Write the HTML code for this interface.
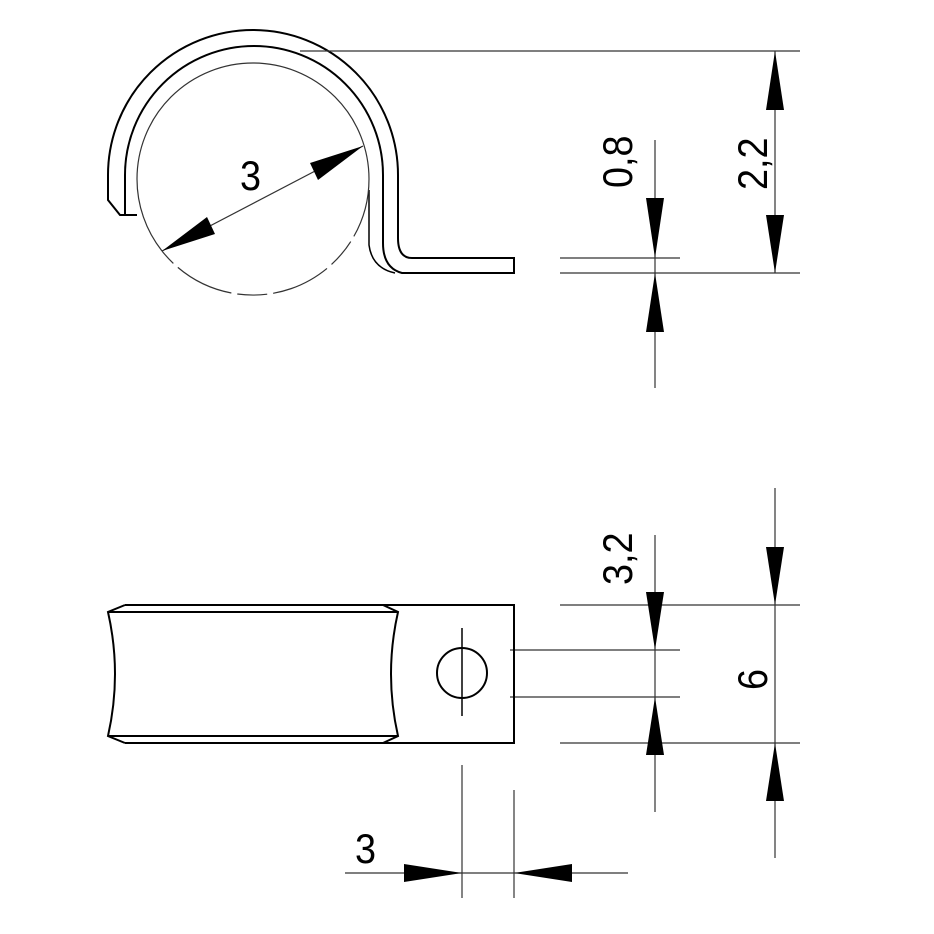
<!DOCTYPE html>
<html><head><meta charset="utf-8"><style>html,body{margin:0;padding:0;background:#fff}svg{display:block}text{font-family:"Liberation Sans",sans-serif;font-size:42px;fill:#000}</style></head><body>
<svg width="934" height="934" viewBox="0 0 934 934" xmlns="http://www.w3.org/2000/svg">
<g fill="none" stroke="#000" stroke-width="2">
<path d="M108,200 L108,175 A145,145 0 1 1 398,175 L398,238 Q398,258 412,258 L514,258 L514,273 L402,273 Q383,268 383,243 L383,175 A129,129 0 1 0 125,175 L125,215 L120,215 Z"/>
<path d="M120,215 L137,215"/>
<path d="M369,190 L369,245 Q372,268 395,273" stroke-width="1.5"/>
</g>
<g fill="none" stroke="#333" stroke-width="1.2">
<path d="M137,179 A116,116 0 0 1 369,179"/>
<path d="M137,179 A116,116 0 0 0 162,251"/>
<path d="M369,179 A116,116 0 0 1 162,251" stroke-dasharray="60,6,30,6"/>
<line x1="300" y1="51" x2="800" y2="51"/>
<line x1="775" y1="51" x2="775" y2="273"/>
<line x1="560" y1="273" x2="800" y2="273"/>
<line x1="560" y1="258" x2="680" y2="258"/>
<line x1="655" y1="140" x2="655" y2="388"/>
<line x1="162" y1="251" x2="363" y2="146"/>
<line x1="560" y1="605" x2="800" y2="605"/>
<line x1="560" y1="743" x2="800" y2="743"/>
<line x1="510" y1="650" x2="680" y2="650"/>
<line x1="510" y1="697" x2="680" y2="697"/>
<line x1="775" y1="488" x2="775" y2="858"/>
<line x1="655" y1="535" x2="655" y2="812"/>
<line x1="462" y1="765" x2="462" y2="898"/>
<line x1="514" y1="790" x2="514" y2="898"/>
<line x1="345" y1="873" x2="628" y2="873"/>
<line x1="462" y1="628" x2="462" y2="716" stroke="#000" stroke-width="1.5"/>
</g>
<g fill="#000">
<polygon points="775,51 766,110 784,110"/>
<polygon points="775,273 766,215 784,215"/>
<polygon points="655,258 646,198 664,198"/>
<polygon points="655,273 646,332 664,332"/>
<polygon points="363,146 318,180 310,163"/>
<polygon points="162,251 207,217 215,234"/>
<polygon points="775,605 766,547 784,547"/>
<polygon points="775,743 766,801 784,801"/>
<polygon points="655,650 646,592 664,592"/>
<polygon points="655,697 646,755 664,755"/>
<polygon points="462,873 404,864 404,882"/>
<polygon points="514,873 572,864 572,882"/>
</g>
<g fill="none" stroke="#000" stroke-width="2">
<path d="M125,605 L514,605 L514,743 L125,743"/>
<path d="M125,605 L108,612 Q122,674 108,736 L125,743"/>
<path d="M108,612 L398,612 M108,736 L398,736"/>
<path d="M383,605 L398,612 Q384,674 398,736 L383,743"/>
<circle cx="462" cy="673" r="25"/>
</g>
<text transform="translate(240,190) scale(0.9,1)">3</text>
<text transform="translate(355,863) scale(0.9,1)">3</text>
<text transform="translate(767,190) rotate(-90) scale(0.9,1)">2,2</text>
<text transform="translate(632,188) rotate(-90) scale(0.9,1)">0,8</text>
<text transform="translate(632,585) rotate(-90) scale(0.9,1)">3,2</text>
<text transform="translate(767,690) rotate(-90) scale(0.9,1)">6</text>
</svg>
</body></html>
